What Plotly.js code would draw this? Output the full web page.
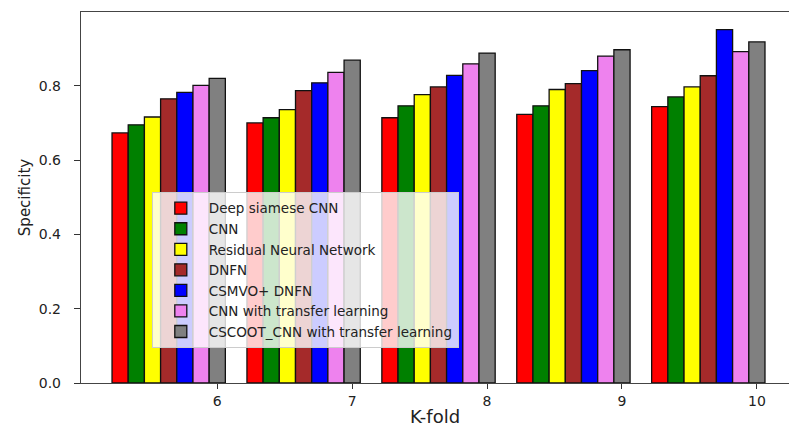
<!DOCTYPE html>
<html>
<head>
<meta charset="utf-8">
<script src="https://cdn.plot.ly/plotly-3.0.1.min.js"></script>
<style>html,body{margin:0;padding:0;background:#fff;}#chart{width:789px;height:429px;}</style>
</head>
<body>
<div id="chart"></div>
<script>
var folds = [6, 7, 8, 9, 10];
var seriesNames = ["Deep siamese CNN", "CNN", "Residual Neural Network", "DNFN", "CSMVO+ DNFN", "CNN with transfer learning", "CSCOOT_CNN with transfer learning"];
var deepSiameseCNN = [0.673, 0.700, 0.714, 0.723, 0.744];
var cnn = [0.695, 0.714, 0.746, 0.746, 0.770];
var residualNN = [0.716, 0.736, 0.776, 0.790, 0.797];
var dnfn = [0.765, 0.787, 0.797, 0.806, 0.827];
var csmvoDnfn = [0.782, 0.808, 0.828, 0.841, 0.951];
var cnnTransfer = [0.801, 0.836, 0.859, 0.880, 0.892];
var cscootCnnTransfer = [0.820, 0.869, 0.888, 0.897, 0.918];
var colors = ["#ff0000", "#008000", "#ffff00", "#a52a2a", "#0000ff", "#ee82ee", "#808080"];
var allSeries = [deepSiameseCNN, cnn, residualNN, dnfn, csmvoDnfn, cnnTransfer, cscootCnnTransfer];
var barWidth = 0.12;

var traces = allSeries.map(function (vals, i) {
  return {
    type: "bar",
    name: seriesNames[i],
    x: folds,
    y: vals,
    width: barWidth,
    offset: (i - 6.5) * barWidth,
    marker: { color: colors[i], line: { color: "#111", width: 1.3 } },
    hoverinfo: "x+y+name"
  };
});

var layout = {
  width: 789,
  height: 429,
  margin: { l: 81, r: 0, t: 12, b: 46 },
  paper_bgcolor: "#fff",
  plot_bgcolor: "#fff",
  barmode: "overlay",
  showlegend: true,
  font: { family: "DejaVu Sans, sans-serif", color: "#222", size: 13 },
  xaxis: {
    range: [4.99, 10.238],
    tickvals: folds,
    ticktext: folds.map(String),
    ticks: "outside",
    ticklen: 5,
    tickcolor: "#333",
    showline: true,
    linecolor: "#444",
    linewidth: 1.2,
    mirror: true,
    showgrid: false,
    zeroline: false,
    tickfont: { size: 14, color: "#222" },
    title: { text: "K-fold", font: { size: 18, color: "#222" }, standoff: 2 }
  },
  yaxis: {
    range: [0, 0.9986],
    tickvals: [0, 0.2, 0.4, 0.6, 0.8],
    tickformat: ".1f",
    ticks: "outside",
    ticklen: 6,
    tickcolor: "#333",
    ticklabelstandoff: 10,
    showline: true,
    linecolor: "#444",
    linewidth: 1.2,
    mirror: false,
    showgrid: false,
    zeroline: false,
    tickfont: { size: 14, color: "#222" },
    title: { text: "Specificity", font: { size: 15, color: "#222" }, standoff: 4 }
  },
  legend: {
    x: 0.1, y: 0.515, xanchor: "left", yanchor: "top",
    bgcolor: "rgba(255,255,255,0.8)",
    bordercolor: "#cccccc",
    borderwidth: 1,
    font: { size: 13.5, color: "#222" },
    tracegroupgap: 0,
    itemwidth: 46
  }
};

Plotly.newPlot("chart", traces, layout, { displayModeBar: false, staticPlot: true });
</script>
</body>
</html>
